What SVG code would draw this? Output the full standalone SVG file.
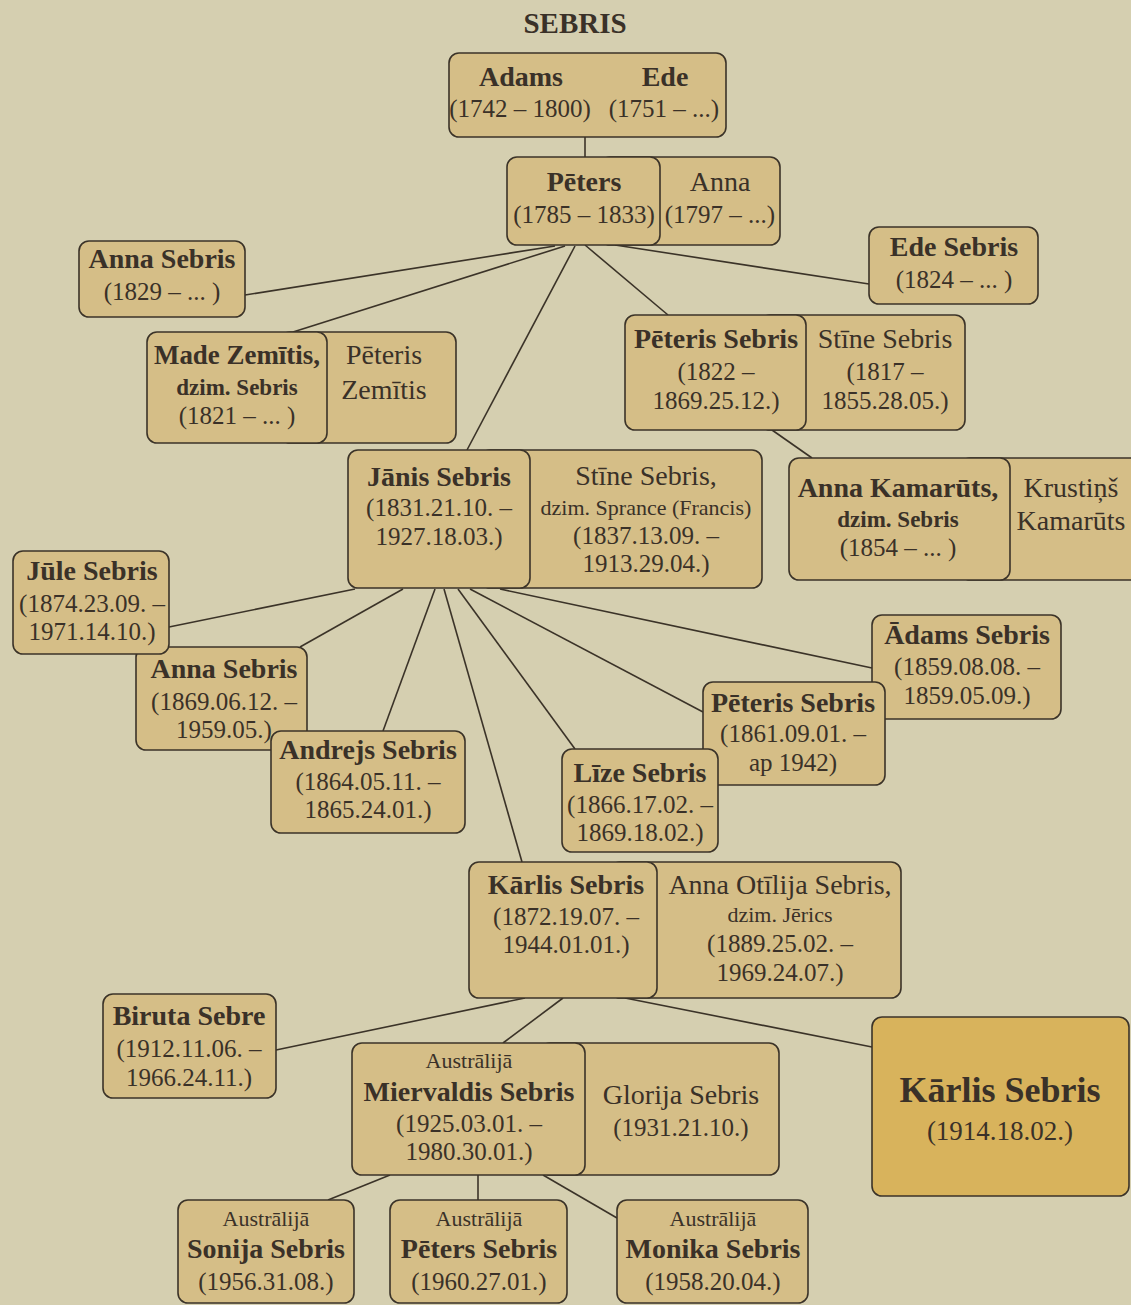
<svg xmlns="http://www.w3.org/2000/svg" width="1131" height="1305" viewBox="0 0 1131 1305">
<style>
.bg{fill:#d5cfb0}
.box{fill:#d5be87;stroke:#3b3328;stroke-width:1.6}
.hl{fill:#d8b35c;stroke:#3b3328;stroke-width:1.6}
.ln{stroke:#3b3328;stroke-width:1.6;fill:none}
text{font-family:"Liberation Serif","Times New Roman",serif;fill:#3a3128;text-anchor:middle}
.t{font-size:29px;font-weight:bold}
.n{font-size:28px;font-weight:bold}
.s{font-size:28px}
.d{font-size:25px}
.z{font-size:23px;font-weight:bold}
.zr{font-size:22px}
.a{font-size:22px}
.big{font-size:36px;font-weight:bold}
.bd{font-size:27px}
</style>
<rect class="bg" x="0" y="0" width="1131" height="1305"/>
<text class="t" x="575" y="33">SEBRIS</text>
<g id="connectors">
<line class="ln" x1="585" y1="137" x2="585" y2="157"/>
<line class="ln" x1="555" y1="246" x2="245" y2="295"/>
<line class="ln" x1="565" y1="246" x2="293" y2="332"/>
<line class="ln" x1="575" y1="246" x2="467" y2="450"/>
<line class="ln" x1="585" y1="245" x2="668" y2="315"/>
<line class="ln" x1="615" y1="245" x2="869" y2="284"/>
<line class="ln" x1="772" y1="430" x2="812" y2="458"/>
<line class="ln" x1="355" y1="589" x2="169" y2="627"/>
<line class="ln" x1="403" y1="589" x2="300" y2="647"/>
<line class="ln" x1="435" y1="589" x2="383" y2="731"/>
<line class="ln" x1="444" y1="589" x2="522" y2="862"/>
<line class="ln" x1="458" y1="589" x2="575" y2="749"/>
<line class="ln" x1="470" y1="589" x2="703" y2="712"/>
<line class="ln" x1="500" y1="589" x2="872" y2="668"/>
<line class="ln" x1="525" y1="998" x2="276" y2="1050"/>
<line class="ln" x1="563" y1="998" x2="503" y2="1043"/>
<line class="ln" x1="625" y1="998" x2="872" y2="1047"/>
<line class="ln" x1="390" y1="1175" x2="328" y2="1200"/>
<line class="ln" x1="478" y1="1175" x2="478" y2="1200"/>
<line class="ln" x1="543" y1="1175" x2="617" y2="1218"/>
</g>
<g id="adams-ede">
<rect class="box" x="449" y="53" width="277" height="84" rx="10"/>
<text class="n" x="521" y="86">Adams</text>
<text class="n" x="665" y="86">Ede</text>
<text class="d" x="520" y="117">(1742 – 1800)</text>
<text class="d" x="664" y="117">(1751 – ...)</text>
</g>
<g id="peters">
<rect class="box" x="600" y="157" width="180" height="88" rx="10"/>
<text class="s" x="720" y="191">Anna</text>
<text class="d" x="720" y="223">(1797 – ...)</text>
<rect class="box" x="507" y="157" width="153" height="88" rx="10"/>
<text class="n" x="584" y="191">Pēters</text>
<text class="d" x="584" y="223">(1785 – 1833)</text>
</g>
<g id="anna-1829">
<rect class="box" x="79" y="241" width="166" height="76" rx="10"/>
<text class="n" x="162" y="268">Anna Sebris</text>
<text class="d" x="162" y="300">(1829 – ... )</text>
</g>
<g id="made">
<rect class="box" x="280" y="332" width="176" height="111" rx="10"/>
<text class="s" x="384" y="364">Pēteris</text>
<text class="s" x="384" y="399">Zemītis</text>
<rect class="box" x="147" y="332" width="180" height="111" rx="10"/>
<text class="n" x="237" y="364" textLength="166" lengthAdjust="spacingAndGlyphs">Made Zemītis,</text>
<text class="z" x="237" y="395">dzim. Sebris</text>
<text class="d" x="237" y="424">(1821 – ... )</text>
</g>
<g id="ede-1824">
<rect class="box" x="869" y="227" width="169" height="77" rx="10"/>
<text class="n" x="954" y="256">Ede Sebris</text>
<text class="d" x="954" y="288">(1824 – ... )</text>
</g>
<g id="peteris-1822">
<rect class="box" x="760" y="315" width="205" height="115" rx="10"/>
<text class="s" x="885" y="348">Stīne Sebris</text>
<text class="d" x="885" y="380">(1817 –</text>
<text class="d" x="885" y="409">1855.28.05.)</text>
<rect class="box" x="625" y="315" width="181" height="115" rx="10"/>
<text class="n" x="716" y="348">Pēteris Sebris</text>
<text class="d" x="716" y="380">(1822 –</text>
<text class="d" x="716" y="409">1869.25.12.)</text>
</g>
<g id="anna-kamaruts">
<rect class="box" x="960" y="458" width="185" height="122" rx="10"/>
<text class="s" x="1071" y="497">Krustiņš</text>
<text class="s" x="1071" y="530">Kamarūts</text>
<rect class="box" x="789" y="458" width="221" height="122" rx="10"/>
<text class="n" x="898" y="497">Anna Kamarūts,</text>
<text class="z" x="898" y="527">dzim. Sebris</text>
<text class="d" x="898" y="556">(1854 – ... )</text>
</g>
<g id="janis">
<rect class="box" x="480" y="450" width="282" height="138" rx="10"/>
<text class="s" x="646" y="485">Stīne Sebris,</text>
<text class="zr" x="646" y="515">dzim. Sprance (Francis)</text>
<text class="d" x="646" y="544">(1837.13.09. –</text>
<text class="d" x="646" y="572">1913.29.04.)</text>
<rect class="box" x="348" y="450" width="182" height="138" rx="10"/>
<text class="n" x="439" y="486">Jānis Sebris</text>
<text class="d" x="439" y="516">(1831.21.10. –</text>
<text class="d" x="439" y="545">1927.18.03.)</text>
</g>
<g id="anna-1869">
<rect class="box" x="136" y="647" width="171" height="103" rx="10"/>
<text class="n" x="224" y="678">Anna Sebris</text>
<text class="d" x="224" y="710">(1869.06.12. –</text>
<text class="d" x="224" y="738">1959.05.)</text>
</g>
<g id="jule">
<rect class="box" x="13" y="551" width="156" height="103" rx="10"/>
<text class="n" x="92" y="580">Jūle Sebris</text>
<text class="d" x="92" y="612">(1874.23.09. –</text>
<text class="d" x="92" y="640">1971.14.10.)</text>
</g>
<g id="andrejs">
<rect class="box" x="271" y="731" width="194" height="102" rx="10"/>
<text class="n" x="368" y="759">Andrejs Sebris</text>
<text class="d" x="368" y="790">(1864.05.11. –</text>
<text class="d" x="368" y="818">1865.24.01.)</text>
</g>
<g id="adams-1859">
<rect class="box" x="872" y="615" width="189" height="104" rx="10"/>
<text class="n" x="967" y="644">Ādams Sebris</text>
<text class="d" x="967" y="675">(1859.08.08. –</text>
<text class="d" x="967" y="704">1859.05.09.)</text>
</g>
<g id="peteris-1861">
<rect class="box" x="703" y="682" width="182" height="103" rx="10"/>
<text class="n" x="793" y="712">Pēteris Sebris</text>
<text class="d" x="793" y="742">(1861.09.01. –</text>
<text class="d" x="793" y="771">ap 1942)</text>
</g>
<g id="lize">
<rect class="box" x="562" y="749" width="156" height="103" rx="10"/>
<text class="n" x="640" y="782">Līze Sebris</text>
<text class="d" x="640" y="813">(1866.17.02. –</text>
<text class="d" x="640" y="841">1869.18.02.)</text>
</g>
<g id="karlis-1872">
<rect class="box" x="610" y="862" width="291" height="136" rx="10"/>
<text class="s" x="780" y="894">Anna Otīlija Sebris,</text>
<text class="zr" x="780" y="922">dzim. Jērics</text>
<text class="d" x="780" y="952">(1889.25.02. –</text>
<text class="d" x="780" y="981">1969.24.07.)</text>
<rect class="box" x="469" y="862" width="188" height="136" rx="10"/>
<text class="n" x="566" y="894">Kārlis Sebris</text>
<text class="d" x="566" y="925">(1872.19.07. –</text>
<text class="d" x="566" y="953">1944.01.01.)</text>
</g>
<g id="biruta">
<rect class="box" x="103" y="994" width="173" height="104" rx="10"/>
<text class="n" x="189" y="1025">Biruta Sebre</text>
<text class="d" x="189" y="1057">(1912.11.06. –</text>
<text class="d" x="189" y="1086">1966.24.11.)</text>
</g>
<g id="miervaldis">
<rect class="box" x="540" y="1043" width="239" height="132" rx="10"/>
<text class="s" x="681" y="1104">Glorija Sebris</text>
<text class="d" x="681" y="1136">(1931.21.10.)</text>
<rect class="box" x="352" y="1043" width="233" height="132" rx="10"/>
<text class="a" x="469" y="1068">Austrālijā</text>
<text class="n" x="469" y="1101">Miervaldis Sebris</text>
<text class="d" x="469" y="1132">(1925.03.01. –</text>
<text class="d" x="469" y="1160">1980.30.01.)</text>
</g>
<g id="karlis-1914">
<rect class="hl" x="872" y="1017" width="257" height="179" rx="10"/>
<text class="big" x="1000" y="1102">Kārlis Sebris</text>
<text class="bd" x="1000" y="1140">(1914.18.02.)</text>
</g>
<g id="sonija">
<rect class="box" x="178" y="1200" width="176" height="103" rx="10"/>
<text class="a" x="266" y="1226">Austrālijā</text>
<text class="n" x="266" y="1258">Sonija Sebris</text>
<text class="d" x="266" y="1290">(1956.31.08.)</text>
</g>
<g id="peters-1960">
<rect class="box" x="390" y="1200" width="177" height="103" rx="10"/>
<text class="a" x="479" y="1226">Austrālijā</text>
<text class="n" x="479" y="1258">Pēters Sebris</text>
<text class="d" x="479" y="1290">(1960.27.01.)</text>
</g>
<g id="monika">
<rect class="box" x="617" y="1200" width="191" height="103" rx="10"/>
<text class="a" x="713" y="1226">Austrālijā</text>
<text class="n" x="713" y="1258">Monika Sebris</text>
<text class="d" x="713" y="1290">(1958.20.04.)</text>
</g>
</svg>
